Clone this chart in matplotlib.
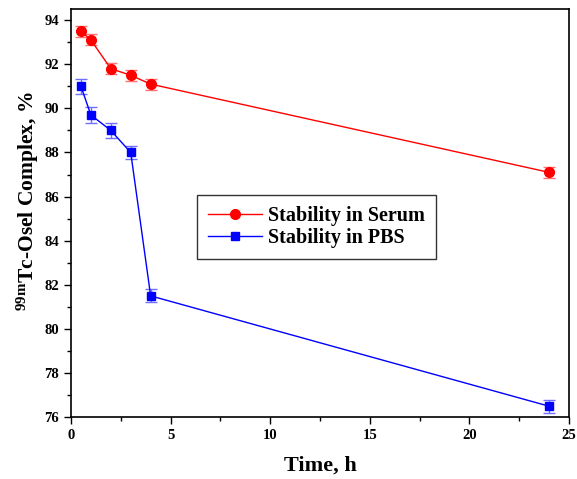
import numpy as np
import matplotlib
matplotlib.use("Agg")
import matplotlib.pyplot as plt
from matplotlib.ticker import MultipleLocator
from matplotlib.lines import Line2D

# data
time_h = [0.5, 1, 2, 3, 4, 24]
serum = [93.5, 93.1, 91.8, 91.5, 91.1, 87.1]
serum_err = [0.25, 0.25, 0.25, 0.25, 0.25, 0.25]
pbs = [91.0, 89.7, 89.0, 88.0, 81.5, 76.5]
pbs_err = [0.35, 0.35, 0.35, 0.3, 0.3, 0.3]

plt.rcParams["font.family"] = ["Liberation Serif", "DejaVu Serif"]
plt.rcParams["font.weight"] = "bold"
plt.rcParams["mathtext.fontset"] = "custom"
plt.rcParams["mathtext.rm"] = "Liberation Serif:bold"
plt.rcParams["mathtext.bf"] = "Liberation Serif:bold"
plt.rcParams["mathtext.it"] = "Liberation Serif:bold"

fig = plt.figure(figsize=(5.77, 4.79), dpi=100)
ax = fig.add_axes([0.123, 0.129, 0.863, 0.852])

ax.errorbar(time_h, serum, yerr=serum_err, color="red", marker="o", ms=7,
            lw=1, ecolor="#ff7070", elinewidth=1, capsize=4)
ax.errorbar(time_h, pbs, yerr=pbs_err, color="blue", marker="s", ms=6,
            lw=1, ecolor="#7070ff", elinewidth=1, capsize=4)

ax.set_xlim(0, 25)
ax.set_ylim(76, 94.5)
ax.xaxis.set_major_locator(MultipleLocator(5))
ax.xaxis.set_minor_locator(MultipleLocator(2.5))
ax.yaxis.set_major_locator(MultipleLocator(2))
ax.yaxis.set_minor_locator(MultipleLocator(1))
ax.tick_params(which="major", length=5, width=1, labelsize=10.5)
ax.tick_params(which="minor", length=3, width=1)
for lab in ax.get_xticklabels() + ax.get_yticklabels():
    lab.set_fontweight("bold")
for sp in ax.spines.values():
    sp.set_linewidth(1.2)

ax.set_xlabel("Time, h", fontsize=16, fontweight="bold", labelpad=10)
ax.set_ylabel(r"$^{\mathrm{99m}}$Tc-Osel Complex, %", fontsize=15.5,
              fontweight="bold")
ax.yaxis.set_label_coords(-0.06, 0.53)

handles = [
    Line2D([], [], color="red", marker="o", ms=7, lw=1),
    Line2D([], [], color="blue", marker="s", ms=6, lw=1),
]
leg = ax.legend(handles, ["Stability in Serum", "Stability in PBS"],
                loc="lower left", bbox_to_anchor=(0.253, 0.387),
                borderaxespad=0, fontsize=14.5, frameon=True, fancybox=False,
                edgecolor="black", handlelength=2.7, borderpad=0.55,
                labelspacing=0.1, handletextpad=0.3)
leg.get_frame().set_linewidth(1)
for t in leg.get_texts():
    t.set_fontweight("bold")

fig.savefig("out.png", dpi=100)
